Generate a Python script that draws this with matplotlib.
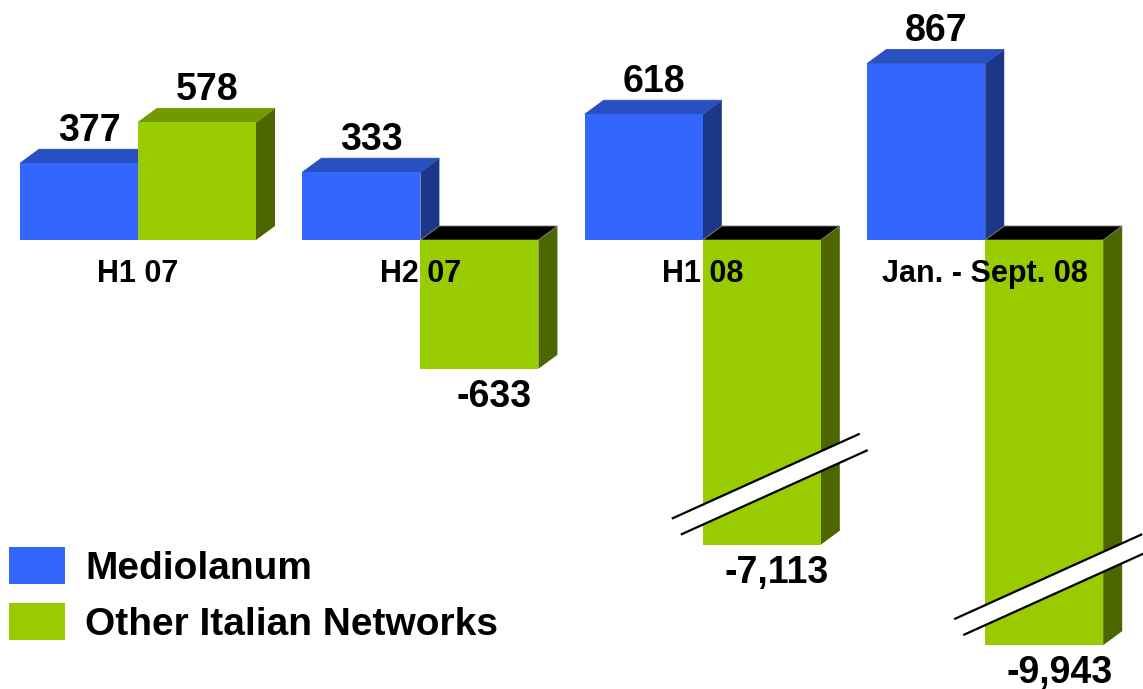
import matplotlib.pyplot as plt
from matplotlib.patches import Polygon, Rectangle

# data
categories = ["H1 07", "H2 07", "H1 08", "Jan. - Sept. 08"]
mediolanum = [377, 333, 618, 867]
other_networks = [578, -633, -7113, -9943]
broken = [False, False, True, True]  # bars drawn with an axis break
series_names = ["Mediolanum", "Other Italian Networks"]

# colours: front, top, side
blue = ("#3366FF", "#2850C0", "#1C3787")
green = ("#99CC00", "#739900", "#4C6600")

W, H = 1143, 689
PX = 0.2035          # pixels per unit
BASE = 240           # baseline, pixels from top
bar_w = 118
dx = 19
dy = 14 / PX
break_at, squeeze = 310, 0.1745


def shown(v, is_broken):
    if not is_broken or v >= 0:
        return v
    return -(break_at + (abs(v) - break_at) * squeeze)


def bar3d(ax, x0, v, cols):
    face, top, side = cols
    lo, hi = min(0, v), max(0, v)
    top_col = top if v >= 0 else "black"
    ax.add_patch(Polygon([(x0 + bar_w, hi), (x0 + bar_w + dx, hi + dy),
                          (x0 + bar_w + dx, lo + dy), (x0 + bar_w, lo)],
                         fc=side, lw=0, zorder=2))
    ax.add_patch(Polygon([(x0, hi), (x0 + dx, hi + dy),
                          (x0 + bar_w + dx, hi + dy), (x0 + bar_w, hi)],
                         fc=top_col, ec="#808080" if v < 0 else top_col, lw=0.6, zorder=2))
    ax.add_patch(Rectangle((x0, lo), bar_w, hi - lo, fc=face, lw=0, zorder=2))


def break_mark(ax, x0, bottom):
    slope = 0.452 / PX
    xs = x0 - 31
    y0 = bottom + 26 / PX
    gap = 20 / PX
    l1 = [(xs, y0), (xs + 188, y0 + 188 * slope)]
    l2 = [(xs + 9, y0 + 9 * slope - gap), (xs + 196, y0 + 196 * slope - gap)]
    ax.add_patch(Polygon([l1[0], l1[1], l2[1], l2[0]], fc="white", lw=0, zorder=3))
    for ln in (l1, l2):
        ax.plot([ln[0][0], ln[1][0]], [ln[0][1], ln[1][1]], color="black",
                lw=1.6, zorder=3, solid_capstyle="butt")


plt.rcParams["font.family"] = ["Liberation Sans", "DejaVu Sans"]
plt.rcParams["font.weight"] = "bold"

fig = plt.figure(figsize=(W / 100, H / 100), dpi=100)
ax = fig.add_axes([0, 0, 1, 1])
ax.set_xlim(0, W)
ax.set_ylim(-(H - BASE) / PX, BASE / PX)
ax.axis("off")

for i, cat in enumerate(categories):
    center = 138 + 282.4 * i
    for x0, v, cols, brk in [(center - bar_w, mediolanum[i], blue, False),
                             (center, other_networks[i], green, broken[i])]:
        s = shown(v, brk)
        bar3d(ax, x0, s, cols)
        if brk:
            break_mark(ax, x0, s)
        if v >= 0:
            ax.text(x0 + bar_w / 2 + 10, s + dy + 8.5 / PX, f"{v:,}", ha="center",
                    va="baseline", fontsize=27, fontweight="bold", zorder=4)
        else:
            ax.text(x0 + bar_w / 2 + 15, s - 38 / PX, f"{v:,}", ha="center",
                    va="baseline", fontsize=27, fontweight="bold", zorder=4)
    ax.text(center, -42 / PX, cat, ha="center", va="baseline", fontsize=22,
            fontweight="bold", zorder=4)

# legend
for k, (name, cols) in enumerate(zip(series_names, [blue, green])):
    top_px = 547 + 56 * k
    ax.add_patch(Rectangle((9 / W, 1 - (top_px + 37) / H), 56 / W, 37 / H,
                           transform=ax.transAxes, fc=cols[0], lw=0))
    ax.text(85 / W, 1 - (top_px + 32) / H, name, transform=ax.transAxes,
            ha="left", va="baseline", fontsize=28, fontweight="bold")

fig.savefig("out.png", dpi=100)
